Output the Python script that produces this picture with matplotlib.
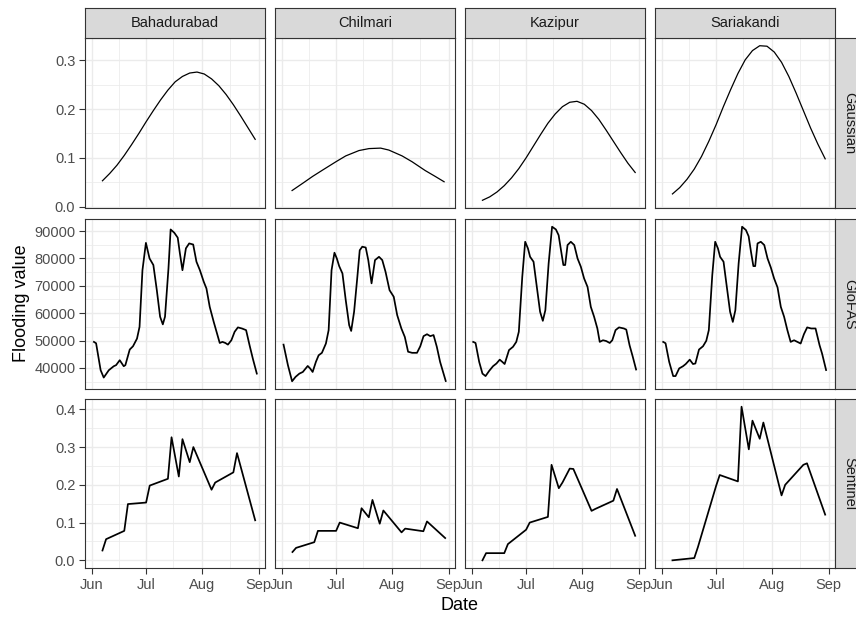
import matplotlib
matplotlib.use("Agg")
import matplotlib.pyplot as plt
import matplotlib.dates as mdates
import numpy as np
import pandas as pd

plt.rcParams['font.family'] = ['Liberation Sans', 'DejaVu Sans']

STATIONS = ['Bahadurabad', 'Chilmari', 'Kazipur', 'Sariakandi']
SOURCES = ['Gaussian', 'GloFAS', 'Sentinel']
START = pd.Timestamp('2020-06-01')

# --- Gaussian (days after 1 June) ---
gauss_days = [6, 10, 14, 18, 22, 26, 30, 34, 38, 42, 46, 50, 54, 58, 62, 66, 70, 74, 78, 82, 86, 90]
gauss_bahadurabad = [0.053, 0.068, 0.085, 0.105, 0.127, 0.150, 0.174, 0.197, 0.219, 0.239, 0.256,
                     0.267, 0.274, 0.276, 0.272, 0.262, 0.248, 0.230, 0.209, 0.186, 0.162, 0.138]
gauss_kazipur = [0.013, 0.020, 0.030, 0.043, 0.059, 0.078, 0.100, 0.124, 0.148, 0.171, 0.190,
                 0.205, 0.214, 0.216, 0.210, 0.197, 0.179, 0.157, 0.134, 0.111, 0.089, 0.070]
gauss_sariakandi = [0.026, 0.039, 0.056, 0.077, 0.103, 0.134, 0.168, 0.205, 0.240, 0.273, 0.301,
                    0.320, 0.330, 0.329, 0.317, 0.296, 0.267, 0.233, 0.197, 0.161, 0.128, 0.098]
gauss_chilmari_days = [5.8, 11.7, 17.1, 22.6, 29.9, 35.3, 42.6, 48.1, 54.5, 59.0, 66.3, 71.8, 79.0, 84.5, 89.4]
gauss_chilmari = [0.033, 0.048, 0.062, 0.075, 0.092, 0.104, 0.115, 0.119, 0.120, 0.116, 0.104,
                  0.092, 0.074, 0.062, 0.051]

# --- GloFAS ---
glofas_bahadurabad_days = [1.3, 2.5, 5, 6.7, 9.5, 12.2, 13.5, 15.5, 17.7, 18.6, 21, 22.8, 25, 26.4, 28,
                           29.9, 31.9, 34, 35.9, 37.7, 39.2, 40.4, 42.3, 43.5, 45.5, 47.4, 48.6, 50,
                           51.9, 53.7, 55.9, 57.7, 59.6, 61.7, 63.2, 65, 67.2, 69, 70.5, 72, 73.6, 75,
                           76.9, 78.7, 80.5, 82.7, 85, 86.9, 88.7, 90.9]
glofas_bahadurabad = [49500, 49000, 39150, 36460, 39150, 40600, 41000, 42800, 40600, 41000, 46700,
                      47900, 50700, 55000, 75700, 85700, 80000, 77600, 68400, 58700, 55900, 58700,
                      76300, 90600, 89400, 87600, 81800, 75700, 83700, 85500, 85100, 78800, 75700,
                      71500, 69000, 62300, 56800, 52600, 49100, 49500, 49100, 48500, 50100, 53200,
                      54800, 54400, 53800, 48300, 43400, 37900]
glofas_chilmari_days = [1.1, 3.5, 5.8, 7.7, 9.8, 11.7, 14.4, 15.7, 17.1, 18.9, 20.4, 22.2, 24.4, 25.9,
                        27.5, 29.1, 30.4, 31.7, 33.5, 35.3, 37.2, 38.3, 39.9, 41.7, 43.0, 44.4, 46.3,
                        47.7, 49.5, 51.4, 53.6, 55.4, 57.2, 59.4, 61.7, 63.6, 65.9, 67.8, 69.6, 71.8,
                        74.5, 76.3, 78.1, 80.0, 81.8, 83.6, 85.4, 87.2, 90.3]
glofas_chilmari = [48500, 41000, 35100, 36700, 37900, 38500, 40700, 39800, 38500, 42200, 44600, 45500,
                   48900, 53800, 75700, 82100, 80000, 77200, 74500, 64800, 55600, 53500, 60500, 73300,
                   83000, 84300, 84000, 79400, 70900, 79400, 80600, 79400, 75100, 68400, 66000, 59300,
                   54400, 51300, 45900, 45500, 45500, 47900, 51600, 52300, 51600, 52000, 47700, 42200,
                   35200]
glofas_kazipur_days = [0.9, 2.2, 4.2, 6.0, 7.7, 9.7, 11.8, 13.7, 15.5, 16.9, 18.2, 20.6, 22.8, 24.6,
                       26.0, 27.9, 29.5, 31.0, 32.2, 34.1, 35.9, 37.7, 39.2, 40.6, 42.4, 44.3, 46.4,
                       47.9, 49.2, 50.5, 51.5, 52.8, 54.6, 56.5, 58.3, 60.1, 61.9, 63.8, 65.6, 67.4,
                       69.2, 70.5, 72.3, 74.1, 76.0, 77.4, 79.2, 81.1, 83.8, 85.1, 86.9, 88.7, 90.5]
glofas_kazipur = [49500, 49100, 42200, 37900, 37000, 38900, 40600, 41600, 43000, 42200, 41400, 46500,
                  47700, 49500, 53200, 73300, 86100, 83700, 80600, 78800, 69600, 60500, 57200, 61100,
                  78200, 91600, 90600, 88500, 83000, 77600, 77600, 84900, 86100, 84900, 80000, 77000,
                  72700, 69600, 62300, 58700, 54400, 49500, 50100, 49800, 49100, 50100, 53800, 54800,
                  54400, 54000, 48300, 44000, 39400]
glofas_sariakandi_days = [0.9, 2.2, 4.2, 6.4, 7.7, 9.7, 11.8, 13.3, 15.5, 17.3, 18.6, 20.6, 22.8, 24.6,
                          26.0, 27.9, 29.5, 31.0, 32.2, 34.1, 35.9, 37.7, 39.2, 40.6, 42.4, 44.3, 46.4,
                          47.9, 49.2, 50.5, 51.5, 52.8, 54.6, 56.5, 58.3, 60.1, 61.9, 63.8, 65.6, 67.4,
                          69.2, 71.0, 72.9, 74.7, 76.5, 78.3, 80.1, 82.3, 84.7, 86.9, 88.3, 90.5]
glofas_sariakandi = [49500, 49000, 42200, 37000, 37000, 39800, 40600, 41400, 43000, 41400, 41600, 46700,
                     47900, 49900, 53800, 73900, 86100, 83700, 80600, 78800, 69600, 60500, 56800, 61100,
                     78200, 91600, 90400, 88100, 82400, 77200, 77200, 85500, 86100, 84900, 80000, 76700,
                     72700, 69400, 62300, 58700, 53800, 49500, 50100, 49500, 48900, 52300, 54800, 54400,
                     54400, 48300, 45200, 39200]

# --- Sentinel ---
sentinel_days = [6, 8, 18, 20, 30, 32, 42, 44, 48, 50, 54, 56, 66, 68, 78, 80, 90]
sentinel_bahadurabad = [0.026, 0.056, 0.078, 0.149, 0.153, 0.198, 0.216, 0.326, 0.222, 0.321, 0.260,
                        0.300, 0.187, 0.206, 0.233, 0.284, 0.106]
sentinel_chilmari = [0.022, 0.033, 0.048, 0.078, 0.078, 0.100, 0.085, 0.138, 0.114, 0.160, 0.097,
                     0.132, 0.074, 0.084, 0.077, 0.103, 0.059]
sentinel_kazipur = [0.000, 0.019, 0.019, 0.043, 0.081, 0.100, 0.115, 0.253, 0.191, 0.206, 0.243,
                    0.242, 0.131, 0.136, 0.158, 0.189, 0.065]
sentinel_sariakandi = [0.000, 0.001, 0.006, 0.035, 0.197, 0.226, 0.209, 0.407, 0.294, 0.370, 0.322,
                       0.365, 0.172, 0.200, 0.253, 0.257, 0.121]

series = {
    ('Gaussian', 'Bahadurabad'): (gauss_days, gauss_bahadurabad),
    ('Gaussian', 'Chilmari'): (gauss_chilmari_days, gauss_chilmari),
    ('Gaussian', 'Kazipur'): (gauss_days, gauss_kazipur),
    ('Gaussian', 'Sariakandi'): (gauss_days, gauss_sariakandi),
    ('GloFAS', 'Bahadurabad'): (glofas_bahadurabad_days, glofas_bahadurabad),
    ('GloFAS', 'Chilmari'): (glofas_chilmari_days, glofas_chilmari),
    ('GloFAS', 'Kazipur'): (glofas_kazipur_days, glofas_kazipur),
    ('GloFAS', 'Sariakandi'): (glofas_sariakandi_days, glofas_sariakandi),
    ('Sentinel', 'Bahadurabad'): (sentinel_days, sentinel_bahadurabad),
    ('Sentinel', 'Chilmari'): (sentinel_days, sentinel_chilmari),
    ('Sentinel', 'Kazipur'): (sentinel_days, sentinel_kazipur),
    ('Sentinel', 'Sariakandi'): (sentinel_days, sentinel_sariakandi),
}

y_ticks = {
    'Gaussian': [0.0, 0.1, 0.2, 0.3],
    'GloFAS': [40000, 50000, 60000, 70000, 80000, 90000],
    'Sentinel': [0.0, 0.1, 0.2, 0.3, 0.4],
}


def to_dates(days):
    return START + pd.to_timedelta(np.asarray(days, dtype=float), unit='D')


W, H = 856, 618
fig = plt.figure(figsize=(W / 100, H / 100), dpi=100)


def px(x0, y0, x1, y1):
    return [x0 / W, 1 - y1 / H, (x1 - x0) / W, (y1 - y0) / H]


cols = [(85, 265), (275, 455), (465, 645), (655, 835)]
rows = [(38, 208), (219, 389), (399, 568)]
BORDER = '#333333'
GRID = '#EBEBEB'
STRIP = '#D9D9D9'

# x limits from all data, ggplot style 5% expansion
all_days = [d for v in series.values() for d in v[0]]
d0, d1 = min(all_days), max(all_days)
xlo, xhi = d0 - 0.05 * (d1 - d0), d1 + 0.05 * (d1 - d0)
xlim = (mdates.date2num(START + pd.Timedelta(days=xlo)), mdates.date2num(START + pd.Timedelta(days=xhi)))


def strip_axes(rect, label, rot):
    sax = fig.add_axes(rect)
    sax.set_facecolor(STRIP)
    sax.set_xticks([])
    sax.set_yticks([])
    for s in sax.spines.values():
        s.set_color(BORDER)
        s.set_linewidth(0.8)
    sax.text(0.5, 0.5, label, ha='center', va='center', rotation=rot, fontsize=10.5,
             color='#1A1A1A', transform=sax.transAxes)


for r, src in enumerate(SOURCES):
    vals = [v for st in STATIONS for v in series[(src, st)][1]]
    lo, hi = min(vals), max(vals)
    ylim = (lo - 0.05 * (hi - lo), hi + 0.05 * (hi - lo))
    major = y_ticks[src]
    step = major[1] - major[0]
    minor = [m + step / 2 for m in [major[0] - step] + major]
    for c, st in enumerate(STATIONS):
        ax = fig.add_axes(px(cols[c][0], rows[r][0], cols[c][1], rows[r][1]))
        days, v = series[(src, st)]
        ax.plot(to_dates(days), v, color='black', lw=0.9 if src == 'Gaussian' else 1.25,
                solid_joinstyle='round', zorder=3)
        ax.xaxis.set_major_locator(mdates.MonthLocator())
        ax.xaxis.set_major_formatter(mdates.DateFormatter('%b'))
        ax.xaxis.set_minor_locator(mdates.MonthLocator(bymonthday=16))
        ax.set_yticks(major)
        ax.set_yticks(minor, minor=True)
        ax.set_xlim(xlim)
        ax.set_ylim(ylim)
        ax.grid(True, which='major', color=GRID, lw=1.0, zorder=0)
        ax.grid(True, which='minor', color=GRID, lw=0.55, zorder=0)
        ax.set_axisbelow(True)
        for s in ax.spines.values():
            s.set_color(BORDER)
            s.set_linewidth(0.8)
        ax.tick_params(which='minor', length=0)
        ax.tick_params(which='major', length=4, width=0.8, color=BORDER, labelcolor='#4D4D4D',
                       labelsize=10.5, pad=3)
        if c == 0:
            if src == 'GloFAS':
                ax.set_yticklabels([f'{int(t)}' for t in major])
            else:
                ax.set_yticklabels([f'{t:.1f}' for t in major])
        else:
            ax.tick_params(axis='y', which='major', length=0, labelleft=False)
        if r != len(SOURCES) - 1:
            ax.tick_params(axis='x', which='major', length=0, labelbottom=False)

        if r == 0:
            strip_axes(px(cols[c][0], 8, cols[c][1], 38), st, 0)
    strip_axes(px(835, rows[r][0], 864, rows[r][1]), src, -90)

fig.text(22 / W, 1 - 303 / H, 'Flooding value', rotation=90, ha='center', va='center', fontsize=13)
fig.text(460 / W, 1 - 605 / H, 'Date', ha='center', va='center', fontsize=13)

fig.savefig('out.png', dpi=100)
